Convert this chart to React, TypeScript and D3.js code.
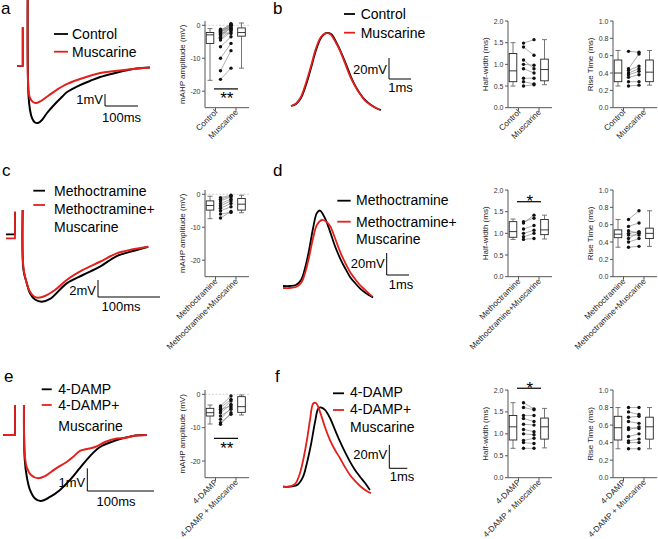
import React from "react";
import * as d3 from "d3";

type Pt = [number, number];

// ---------- Traces (time in ms, voltage in mV, relative to baseline) ----------
const aStep: Pt[] = [[0, 0.17], [17.3, 0.17], [17.3, 3.4]];
const aCtrlAhp: Pt[] = [[32.4, 5.67], [34.8, -2.25], [39.4, -3.5], [45.5, -4.17], [54.5, -4.54], [63.6, -4.58], [75.8, -4.33], [90.9, -3.75], [115, -3.0], [136, -2.42], [152, -2.0], [191, -1.42], [221, -1.08], [252, -0.75], [297, -0.42], [352, -0.08], [403, 0.04]];
const aMuscAhp: Pt[] = [[32.4, 5.67], [34.8, -1.83], [39.4, -2.5], [48.5, -2.83], [59, -2.92], [72.7, -2.75], [94, -2.33], [115, -1.92], [152, -1.33], [191, -0.92], [252, -0.42], [297, -0.25], [352, -0.08], [403, 0.04]];

const cCtrlStep: Pt[] = [[0, 0.32], [14.5, 0.32], [14.5, 2.98]];
const cMuscStep: Pt[] = [[0, -0.15], [14.5, -0.15], [14.5, 2.98]];
const cCtrlAhp: Pt[] = [[26.9, 3.18], [28.2, -3.88], [33.4, -5.41], [38.7, -6.62], [46.8, -7.35], [57.6, -7.61], [71, -7.29], [97.9, -5.45], [124, -4.47], [151.6, -3.49], [178.5, -2.24], [204.8, -1.65], [229.5, -1.14]];
const cMuscAhp: Pt[] = [[26.9, 3.18], [28.2, -3.65], [33.4, -5.41], [38.7, -6.44], [45.2, -7.0], [52.1, -7.14], [62.9, -6.94], [79, -6.24], [97.9, -5.06], [124, -3.88], [151.6, -2.91], [178.5, -1.92], [204.8, -1.45], [229.5, -1.14]];

const eStep: Pt[] = [[0, 0], [17.5, 0], [17.5, 1.32]];
const eCtrlAhp: Pt[] = [[31.0, 1.32], [32.2, -1.1], [35.5, -1.89], [40.0, -2.42], [47.5, -2.8], [56.1, -2.91], [70.0, -2.73], [85.0, -2.42], [100.0, -1.98], [115.0, -1.45], [130.0, -0.93], [145.0, -0.53], [170.0, -0.22], [194.5, -0.04], [215.0, 0]];
const eMuscAhp: Pt[] = [[31.0, 1.32], [32.2, -0.88], [35.5, -1.45], [41.5, -1.76], [52.5, -1.91], [62.5, -1.81], [77.5, -1.5], [95.0, -1.19], [104.5, -0.97], [115.0, -0.7], [125.5, -0.62], [137.5, -0.53], [152.5, -0.31], [170.0, -0.15], [182.5, -0.13], [194.5, -0.04], [215.0, 0]];

const bCtrlAp: Pt[] = [[0, 0], [0.23, 1.9], [0.45, 7.6], [0.68, 20], [0.91, 36.2], [1.14, 53.3], [1.36, 64.8], [1.59, 69.5], [1.82, 68.6], [2.05, 61], [2.27, 51.4], [2.5, 40], [2.73, 27.6], [2.95, 18.1], [3.18, 10.5], [3.41, 4.8], [3.64, 1], [3.86, -1.9], [4.09, -3.8]];
const bMuscAp: Pt[] = [[0, 0], [0.23, 2.4], [0.45, 8.6], [0.68, 21.9], [0.91, 38.1], [1.14, 55.2], [1.36, 65.7], [1.55, 69], [1.77, 68.6], [2.0, 61.9], [2.23, 52.4], [2.45, 41], [2.68, 28.6], [2.91, 19], [3.14, 11.4], [3.36, 5.2], [3.59, 1.4], [3.82, -1.4], [4.05, -3.8]];

const dCtrlAp: Pt[] = [[0, 0], [0.31, 0], [0.58, 0.9], [0.81, 5.5], [0.99, 16.4], [1.17, 32.7], [1.35, 52.7], [1.52, 66.4], [1.66, 68.6], [1.88, 61.8], [2.11, 49.4], [2.33, 36.4], [2.56, 25.2], [2.78, 16.4], [3.0, 8.5], [3.23, 2.7], [3.45, -2.1], [3.68, -5.9], [4.04, -10.5]];
const dMuscAp: Pt[] = [[0, -1.8], [0.31, -1.8], [0.58, -0.9], [0.81, 2.7], [0.99, 11.8], [1.17, 26.4], [1.35, 43.6], [1.52, 55.5], [1.75, 60], [1.93, 58.6], [2.11, 54.5], [2.33, 43.6], [2.56, 31.2], [2.78, 21.4], [3.0, 13], [3.23, 6.4], [3.45, 0.9], [3.68, -3.6], [4.0, -9.5]];

const fCtrlAp: Pt[] = [[0, 0], [0.5, 0.2], [0.83, 1.9], [1.11, 8.3], [1.33, 20.3], [1.56, 36.5], [1.78, 55.3], [1.96, 66.8], [2.11, 67.7], [2.33, 65.6], [2.61, 58.7], [2.89, 48.5], [3.17, 38.5], [3.44, 29.7], [3.72, 21.4], [4.0, 14.3], [4.28, 8.5], [4.56, 3.2], [4.83, -2.8]];
const fMuscAp: Pt[] = [[0, 0], [0.39, 0.2], [0.67, 2.3], [0.89, 9.1], [1.11, 22], [1.33, 39.9], [1.5, 57], [1.68, 71.1], [1.83, 71.5], [2.06, 63.8], [2.33, 51], [2.61, 39.9], [2.89, 31.4], [3.17, 24.3], [3.44, 16.8], [3.72, 10], [4.0, 4.9], [4.28, 0.6], [4.56, -2.8], [4.89, -5.6]];

// ---------- Box plots: [min, q1, median, q3, max] and paired values ----------
const boxA_ctrl = [-16.7, -5.5, -2.9, -2.2, -1.0];
const boxA_musc = [-13, -3.3, -2.2, -0.8, 0.7];
const pairsA_ctrl = [-16.4, -13.8, -10.0, -6.5, -4.5, -4.0, -3.6, -3.2, -2.8, -2.5, -2.2, -2.0, -1.8, -1.6, -1.4, -1.2];
const pairsA_musc = [-13.0, -7.7, -5.5, -3.5, -2.0, -1.5, -0.5, 0.0, -1.0, 0.3, -2.5, -0.2, 0.5, -1.2, 0.2, -0.8];

const boxB_hw_ctrl = [0.5, 0.6, 0.85, 1.25, 1.5];
const boxB_hw_musc = [0.53, 0.62, 0.88, 1.12, 1.57];
const pairsB_hw_ctrl = [1.49, 1.4, 1.1, 1.0, 0.9, 0.68, 0.6, 0.5];
const pairsB_hw_musc = [1.57, 1.21, 0.9, 0.98, 0.8, 0.68, 0.55, 0.53];

const boxB_rt_ctrl = [0.25, 0.3, 0.4, 0.55, 0.66];
const boxB_rt_musc = [0.26, 0.3, 0.41, 0.55, 0.66];
const pairsB_rt_ctrl = [0.65, 0.45, 0.43, 0.4, 0.38, 0.35, 0.3, 0.25];
const pairsB_rt_musc = [0.64, 0.62, 0.48, 0.45, 0.42, 0.38, 0.3, 0.26];

const boxC_ctrl = [-7.4, -4.8, -3.4, -2.0, -0.6];
const boxC_musc = [-5.6, -4.8, -3.0, -1.3, -0.3];
const pairsC_ctrl = [-7.2, -6.0, -5.0, -4.2, -3.5, -2.8, -2.0, -1.5, -1.0];
const pairsC_musc = [-5.2, -5.5, -3.8, -2.8, -2.0, -1.5, -0.8, -0.5, -0.3];

const boxD_hw_ctrl = [0.86, 0.91, 1.04, 1.27, 1.33];
const boxD_hw_musc = [0.87, 0.97, 1.08, 1.32, 1.42];
const pairsD_hw_ctrl = [1.27, 1.24, 1.1, 1.0, 0.92, 0.86];
const pairsD_hw_musc = [1.35, 1.42, 1.18, 1.07, 1.0, 0.88];

const boxD_rt_ctrl = [0.34, 0.45, 0.49, 0.54, 0.66];
const boxD_rt_musc = [0.35, 0.44, 0.5, 0.56, 0.76];
const pairsD_rt_ctrl = [0.66, 0.58, 0.53, 0.5, 0.48, 0.44, 0.4, 0.34];
const pairsD_rt_musc = [0.76, 0.62, 0.5, 0.52, 0.48, 0.51, 0.44, 0.35];

const boxE_ctrl = [-8.9, -6.5, -5.5, -4.2, -3.2];
const boxE_musc = [-6.2, -5.4, -3.7, -0.7, -0.2];
const pairsE_ctrl = [-3.5, -4.0, -4.5, -5.0, -5.5, -6.5, -7.5, -8.5, -9.0];
const pairsE_musc = [-0.5, -1.5, -3.5, -2.0, -3.0, -4.5, -4.0, -6.0, -5.5];

const boxF_hw_ctrl = [0.67, 0.86, 1.16, 1.42, 1.71];
const boxF_hw_musc = [0.68, 0.88, 1.16, 1.36, 1.58];
const pairsF_hw_ctrl = [1.71, 1.6, 1.42, 1.35, 1.22, 1.1, 1.0, 0.85, 0.8, 0.67];
const pairsF_hw_musc = [1.57, 1.55, 1.42, 1.28, 1.2, 1.05, 0.98, 0.9, 0.78, 0.67];

const boxF_rt_ctrl = [0.33, 0.43, 0.57, 0.7, 0.8];
const boxF_rt_musc = [0.33, 0.44, 0.58, 0.69, 0.8];
const pairsF_rt_ctrl = [0.8, 0.75, 0.69, 0.64, 0.57, 0.55, 0.47, 0.42, 0.4, 0.33];
const pairsF_rt_musc = [0.8, 0.72, 0.7, 0.62, 0.56, 0.58, 0.5, 0.44, 0.4, 0.33];

// ---------- Labels / ticks ----------
const MAHP_TICKS = [0, -10, -20];
const HW_TICKS = [0, 0.5, 1, 1.5, 2];
const RT_TICKS = [0, 0.2, 0.4, 0.6, 0.8, 1];
const CATS_AB = ["Control", "Muscarine"];
const CATS_CD = ["Methoctramine", "Methoctramine+Muscarine"];
const CATS_EF = ["4-DAMP", "4-DAMP + Muscarine"];
const LEG_AB = ["Control", "Muscarine"];
const LEG_CD = ["Methoctramine", "Methoctramine+", "Muscarine"];
const LEG_EF = ["4-DAMP", "4-DAMP+", "Muscarine"];
const PANEL_LABELS = ["a", "b", "c", "d", "e", "f"];

const FONT = "'Liberation Sans', Arial, Helvetica, sans-serif";
const RED = "#e3201c";

function TracePlot({ x0, kx, y0, ky, traces, bar }: any) {
  const sx = d3.scaleLinear().domain([0, 1]).range([x0, x0 + kx]);
  const sy = d3.scaleLinear().domain([0, 1]).range([y0, y0 - ky]);
  const lin = d3.line<Pt>().x((d) => sx(d[0])).y((d) => sy(d[1]));
  const smooth = d3.line<Pt>().x((d) => sx(d[0])).y((d) => sy(d[1])).curve(d3.curveCatmullRom.alpha(0.5));
  const vLen = sy(0) - sy(bar.v);
  const hLen = sx(bar.t) - sx(0);
  return (
    <g>
      {traces.map((tr: any, i: number) => (
        <g key={i}>
          {tr.step && <path d={lin(tr.step) || ""} fill="none" stroke={tr.color} strokeWidth={1.8} />}
          <path d={smooth(tr.main) || ""} fill="none" stroke={tr.color} strokeWidth={tr.w || 2} strokeLinejoin="round" />
        </g>
      ))}
      <path d={`M${bar.cx},${bar.cy - vLen}V${bar.cy}H${bar.cx + hLen}`} fill="none" stroke="#000" strokeWidth={1} />
      <text x={bar.cx - 2} y={bar.vy} textAnchor="end" fontSize={13}>{bar.vLabel}</text>
      <text x={bar.hx} y={bar.hy} textAnchor="middle" fontSize={13}>{bar.hLabel}</text>
    </g>
  );
}

function Legend({ x1, x2, tx, items }: any) {
  return (
    <g>
      {items.map((it: any, i: number) => (
        <g key={i}>
          {it.ly != null && <line x1={x1} x2={x2} y1={it.ly} y2={it.ly} stroke={it.color} strokeWidth={1.8} />}
          <text x={tx} y={it.by} fontSize={14}>{it.text}</text>
        </g>
      ))}
    </g>
  );
}

function BoxPanel({ x0, top, bottom, domain, ticks, fmt, title, cats, b1, b2, pre, post, sig, zero }: any) {
  const y = d3.scaleLinear().domain(domain).range([bottom, top]);
  const x = d3.scalePoint<string>().domain(cats).range([x0 + 10.5, x0 + 31]);
  const t1 = x(cats[0]) as number;
  const t2 = x(cats[1]) as number;
  const xEnd = x0 + 44;
  const boxAt = [t1 - 5.5, t2 + 5.5];
  const dotX = [t1 + 5, t2 - 5];
  const hw = 3.8;
  const axisCol = "#555";
  return (
    <g>
      {zero && <line x1={x0} x2={xEnd} y1={y(0)} y2={y(0)} stroke="#c8c8c8" strokeWidth={0.8} strokeDasharray="2,1.5" />}
      {pre.map((v: number, i: number) => (
        <line key={"l" + i} x1={dotX[0]} y1={y(v)} x2={dotX[1]} y2={y(post[i])} stroke="#8a8a8a" strokeWidth={0.7} />
      ))}
      {pre.map((v: number, i: number) => <circle key={"p" + i} cx={dotX[0]} cy={y(v)} r={1.7} fill="#111" />)}
      {post.map((v: number, i: number) => <circle key={"q" + i} cx={dotX[1]} cy={y(v)} r={1.7} fill="#111" />)}
      {[b1, b2].map((b: number[], i: number) => {
        const c = boxAt[i];
        return (
          <g key={"b" + i}>
            <line x1={c} x2={c} y1={y(b[0])} y2={y(b[1])} stroke="#666" strokeWidth={0.9} />
            <line x1={c} x2={c} y1={y(b[3])} y2={y(b[4])} stroke="#666" strokeWidth={0.9} />
            <line x1={c - 2.5} x2={c + 2.5} y1={y(b[0])} y2={y(b[0])} stroke="#666" strokeWidth={0.9} />
            <line x1={c - 2.5} x2={c + 2.5} y1={y(b[4])} y2={y(b[4])} stroke="#666" strokeWidth={0.9} />
            <rect x={c - hw} width={2 * hw} y={y(b[3])} height={y(b[1]) - y(b[3])} fill="#fff" stroke="#222" strokeWidth={0.9} />
            <line x1={c - hw} x2={c + hw} y1={y(b[2])} y2={y(b[2])} stroke="#222" strokeWidth={0.9} />
          </g>
        );
      })}
      <line x1={x0} x2={x0} y1={top} y2={bottom} stroke={axisCol} strokeWidth={1} />
      <line x1={x0} x2={xEnd} y1={bottom} y2={bottom} stroke={axisCol} strokeWidth={1} />
      {ticks.map((t: number) => (
        <g key={"t" + t}>
          <line x1={x0 - 3} x2={x0} y1={y(t)} y2={y(t)} stroke={axisCol} strokeWidth={1} />
          <text x={x0 - 4.5} y={y(t) + 2.5} textAnchor="end" fontSize={7} fill="#333">{fmt(t)}</text>
        </g>
      ))}
      {[t1, t2].map((t, i) => (
        <g key={"x" + i}>
          <line x1={t} x2={t} y1={bottom} y2={bottom + 3} stroke={axisCol} strokeWidth={1} />
          <text transform={`translate(${t + 2.5},${bottom + 5}) rotate(-45)`} textAnchor="end" fontSize={8.2} fill="#222">{cats[i]}</text>
        </g>
      ))}
      <text transform={`translate(${x0 - 20},${(top + bottom) / 2}) rotate(-90)`} textAnchor="middle" fontSize={8} fill="#222">{title}</text>
      {sig && (
        <g>
          <line x1={t1 - 1.5} x2={t2 + 2} y1={y(sig.v)} y2={y(sig.v)} stroke="#000" strokeWidth={1.2} />
          <text x={(t1 + t2) / 2 + 1} y={y(sig.v) + (sig.below ? 15.4 : 5.5)} textAnchor="middle" fontSize={17}>{sig.stars}</text>
        </g>
      )}
    </g>
  );
}

export default function App() {
  const rows = [
    { top: 21, bottom: 107.7 },
    { top: 190, bottom: 276.7 },
    { top: 390, bottom: 477.7 },
  ];
  const kinds: any = {
    mahp: { domain: [-25, 1.3], ticks: MAHP_TICKS, fmt: (v: number) => String(v), title: "mAHP amplitude (mV)", zero: true },
    hw: { domain: [0, 2], ticks: HW_TICKS, fmt: d3.format(".1f"), title: "Half-width (ms)", zero: false },
    rt: { domain: [0, 1], ticks: RT_TICKS, fmt: d3.format(".1f"), title: "Rise Time (ms)", zero: false },
  };
  const boxPanels = [
    { x0: 205, row: 0, kind: "mahp", cats: CATS_AB, b1: boxA_ctrl, b2: boxA_musc, pre: pairsA_ctrl, post: pairsA_musc, sig: { v: -19.3, stars: "**", below: true } },
    { x0: 508, row: 0, kind: "hw", cats: CATS_AB, b1: boxB_hw_ctrl, b2: boxB_hw_musc, pre: pairsB_hw_ctrl, post: pairsB_hw_musc },
    { x0: 613, row: 0, kind: "rt", cats: CATS_AB, b1: boxB_rt_ctrl, b2: boxB_rt_musc, pre: pairsB_rt_ctrl, post: pairsB_rt_musc },
    { x0: 205, row: 1, kind: "mahp", cats: CATS_CD, b1: boxC_ctrl, b2: boxC_musc, pre: pairsC_ctrl, post: pairsC_musc },
    { x0: 508, row: 1, kind: "hw", cats: CATS_CD, b1: boxD_hw_ctrl, b2: boxD_hw_musc, pre: pairsD_hw_ctrl, post: pairsD_hw_musc, sig: { v: 1.73, stars: "*", below: false } },
    { x0: 613, row: 1, kind: "rt", cats: CATS_CD, b1: boxD_rt_ctrl, b2: boxD_rt_musc, pre: pairsD_rt_ctrl, post: pairsD_rt_musc },
    { x0: 205, row: 2, kind: "mahp", cats: CATS_EF, b1: boxE_ctrl, b2: boxE_musc, pre: pairsE_ctrl, post: pairsE_musc, sig: { v: -13.2, stars: "**", below: true } },
    { x0: 508, row: 2, kind: "hw", cats: CATS_EF, b1: boxF_hw_ctrl, b2: boxF_hw_musc, pre: pairsF_hw_ctrl, post: pairsF_hw_musc, sig: { v: 2.04, stars: "*", below: false } },
    { x0: 613, row: 2, kind: "rt", cats: CATS_EF, b1: boxF_rt_ctrl, b2: boxF_rt_musc, pre: pairsF_rt_ctrl, post: pairsF_rt_musc },
  ];
  const tracePlots = [
    { x0: 17, kx: 0.33, y0: 68, ky: 12, traces: [{ color: "#000", step: aStep, main: aCtrlAhp }, { color: RED, step: aStep, main: aMuscAhp }],
      bar: { cx: 105, cy: 106, v: 1, t: 100, vLabel: "1mV", hLabel: "100ms", vy: 104, hx: 121.5, hy: 121.7 } },
    { x0: 6, kx: 0.62, y0: 237, ky: 8.5, traces: [{ color: "#000", step: cCtrlStep, main: cCtrlAhp }, { color: RED, step: cMuscStep, main: cMuscAhp }],
      bar: { cx: 98, cy: 297, v: 2, t: 100, vLabel: "2mV", hLabel: "100ms", vy: 295, hx: 121, hy: 310.7 } },
    { x0: 3.3, kx: 0.667, y0: 435, ky: 22.7, traces: [{ color: "#000", step: eStep, main: eCtrlAhp }, { color: RED, step: eStep, main: eMuscAhp }],
      bar: { cx: 87.3, cy: 491, v: 1, t: 100, vLabel: "1mV", hLabel: "100ms", vy: 486.7, hx: 116, hy: 505.7 } },
    { x0: 291, kx: 22, y0: 106, ky: 1.05, traces: [{ color: "#000", main: bCtrlAp, w: 1.8 }, { color: RED, main: bMuscAp, w: 1.8 }],
      bar: { cx: 389, cy: 79, v: 20, t: 1, vLabel: "20mV", hLabel: "1ms", vy: 74, hx: 400.5, hy: 91.7 } },
    { x0: 283, kx: 22.3, y0: 286, ky: 1.1, traces: [{ color: "#000", main: dCtrlAp, w: 1.8 }, { color: RED, main: dMuscAp, w: 1.8 }],
      bar: { cx: 386.7, cy: 275, v: 20, t: 1, vLabel: "20mV", hLabel: "1ms", vy: 267.5, hx: 401, hy: 289 } },
    { x0: 283, kx: 18, y0: 486.7, ky: 1.17, traces: [{ color: "#000", main: fCtrlAp, w: 1.8 }, { color: RED, main: fMuscAp, w: 1.8 }],
      bar: { cx: 389.3, cy: 468.3, v: 20, t: 1, vLabel: "20mV", hLabel: "1ms", vy: 459, hx: 402, hy: 481 } },
  ];
  const legends = [
    { x1: 54, x2: 68, tx: 72, items: [{ ly: 34, by: 39.3, color: "#000", text: LEG_AB[0] }, { ly: 51.7, by: 56.7, color: RED, text: LEG_AB[1] }] },
    { x1: 344, x2: 355, tx: 360.7, items: [{ ly: 14, by: 19.3, color: "#000", text: LEG_AB[0] }, { ly: 32.7, by: 37.7, color: RED, text: LEG_AB[1] }] },
    { x1: 33.3, x2: 45, tx: 54, items: [{ ly: 190.7, by: 196, color: "#000", text: LEG_CD[0] }, { ly: 205, by: 214.3, color: RED, text: LEG_CD[1] }, { ly: null, by: 231.7, text: LEG_CD[2] }] },
    { x1: 337.3, x2: 350.7, tx: 356, items: [{ ly: 200.7, by: 205, color: "#000", text: LEG_CD[0] }, { ly: 221.7, by: 226.7, color: RED, text: LEG_CD[1] }, { ly: null, by: 244, text: LEG_CD[2] }] },
    { x1: 41.7, x2: 51.7, tx: 58.3, items: [{ ly: 389.3, by: 394.3, color: "#000", text: LEG_EF[0] }, { ly: 405, by: 410, color: RED, text: LEG_EF[1] }, { ly: null, by: 431, text: LEG_EF[2] }] },
    { x1: 333, x2: 344, tx: 350, items: [{ ly: 393.3, by: 397.3, color: "#000", text: LEG_EF[0] }, { ly: 410, by: 414.3, color: RED, text: LEG_EF[1] }, { ly: null, by: 431.7, text: LEG_EF[2] }] },
  ];
  const labelPos = [[1, 14], [273, 14], [2, 176], [273, 176], [4, 381.7], [275, 381.7]];
  return (
    <svg width={658} height={539} style={{ position: "absolute", left: 0, top: 0, background: "#fff" }} fontFamily={FONT}>
      <rect x={0} y={0} width={658} height={539} fill="#fff" />
      {PANEL_LABELS.map((l, i) => (
        <text key={l} x={labelPos[i][0]} y={labelPos[i][1]} fontSize={17}>{l}</text>
      ))}
      {tracePlots.map((tp, i) => <TracePlot key={i} {...tp} />)}
      {legends.map((lg, i) => <Legend key={i} {...lg} />)}
      {boxPanels.map((bp, i) => {
        const k = kinds[bp.kind];
        const r = rows[bp.row];
        return <BoxPanel key={i} {...bp} {...k} top={r.top} bottom={r.bottom} />;
      })}
    </svg>
  );
}
